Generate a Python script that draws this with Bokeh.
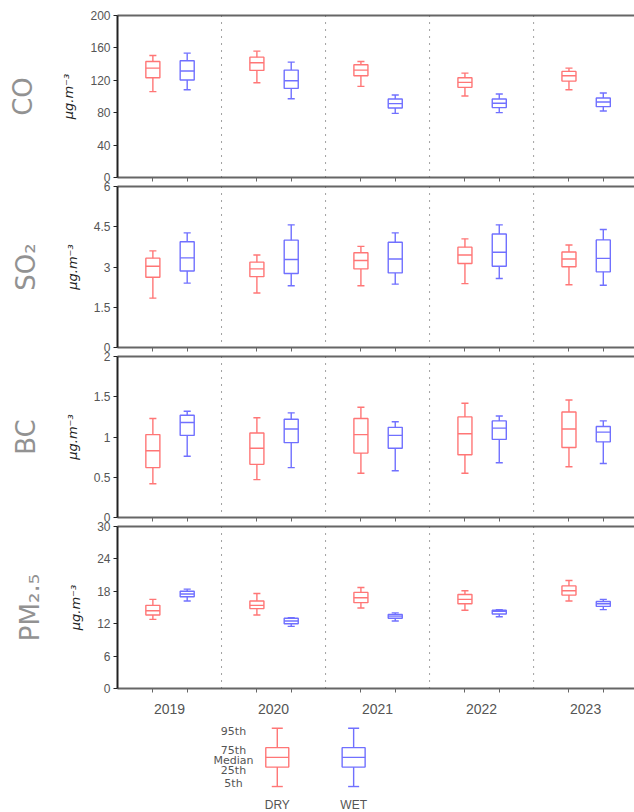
import numpy as np
from bokeh.plotting import figure
from bokeh.layouts import column
from bokeh.models import (Range1d, LinearAxis, FixedTicker, Span,
                          ColumnDataSource)
from bokeh.core.properties import value
from bokeh.embed import file_html
from bokeh.resources import INLINE

years = ["2019", "2020", "2021", "2022", "2023"]

# Percentiles per year: (5th, 25th, median, 75th, 95th)
co_dry = [(106, 123.2, 135, 143.3, 150.7), (117, 132.2, 141.7, 148.6, 156),
          (112.5, 125.7, 132.6, 139.2, 143.3), (100.6, 111.3, 117.4, 123.2, 128.9),
          (108.4, 119, 125.7, 131, 135)]
co_wet = [(108.4, 120.3, 131.4, 144.2, 153.5), (97.3, 110, 119.5, 132.6, 142.5),
          (79.2, 85.8, 91.2, 96.9, 101.8), (80.1, 86.3, 91.6, 96.9, 103),
          (82.1, 87.5, 93.2, 98.1, 104.3)]

so2_dry = [(1.84, 2.62, 3.03, 3.33, 3.60), (2.03, 2.64, 2.93, 3.18, 3.45),
           (2.30, 2.93, 3.24, 3.53, 3.77), (2.38, 3.13, 3.45, 3.74, 4.05),
           (2.34, 3.01, 3.30, 3.56, 3.82)]
so2_wet = [(2.40, 2.85, 3.34, 3.94, 4.27), (2.30, 2.76, 3.28, 4.00, 4.57),
           (2.36, 2.78, 3.30, 3.92, 4.27), (2.57, 3.03, 3.55, 4.23, 4.57),
           (2.32, 2.82, 3.32, 4.01, 4.40)]

bc_dry = [(0.42, 0.62, 0.83, 1.03, 1.23), (0.47, 0.66, 0.86, 1.05, 1.24),
          (0.55, 0.80, 1.03, 1.23, 1.37), (0.55, 0.78, 1.04, 1.25, 1.42),
          (0.63, 0.87, 1.10, 1.31, 1.46)]
bc_wet = [(0.76, 1.02, 1.18, 1.27, 1.32), (0.62, 0.93, 1.10, 1.22, 1.30),
          (0.58, 0.86, 1.02, 1.12, 1.19), (0.68, 0.97, 1.11, 1.20, 1.26),
          (0.67, 0.94, 1.06, 1.13, 1.20)]

pm25_dry = [(12.8, 13.6, 14.4, 15.4, 16.5), (13.6, 14.8, 15.4, 16.2, 17.6),
            (14.9, 15.9, 16.8, 17.8, 18.7), (14.5, 15.7, 16.5, 17.4, 18.1),
            (16.2, 17.3, 18.1, 19.0, 20.0)]
pm25_wet = [(16.2, 17.0, 17.5, 18.0, 18.4), (11.5, 12.0, 12.5, 13.0, 13.1),
            (12.5, 13.0, 13.4, 13.7, 14.0), (13.3, 13.8, 14.3, 14.5, 14.6),
            (14.6, 15.2, 15.7, 16.1, 16.5)]

co_ticks = [0, 40, 80, 120, 160, 200]
co_tick_labels = ["0", "40", "80", "120", "160", "200"]
so2_ticks = [0, 1.5, 3, 4.5, 6]
so2_tick_labels = ["0", "1.5", "3", "4.5", "6"]
bc_ticks = [0, 0.5, 1, 1.5, 2]
bc_tick_labels = ["0", "0.5", "1", "1.5", "2"]
pm25_ticks = [0, 6, 12, 18, 24, 30]
pm25_tick_labels = ["0", "6", "12", "18", "24", "30"]

# Schematic key: levels of the sample box
legend_names = ["5th", "25th", "Median", "75th", "95th"]
legend_levels = (0, 2, 3, 4, 6)
legend_name_y = [0.3, 1.7, 2.7, 3.7, 5.7]

DRY_COLOR = "#ff7676"
WET_COLOR = "#7070ff"
DRY_OFFSET, WET_OFFSET = 0.34, 0.67
BOX_W, CAP_W = 0.135, 0.068
X_END = 4.97
FRAME_W = 517
LEFT = 117
GAP = 9
AXIS_GREY = "#666666"
TEXT_GREY = "#555555"


def draw_boxes(p, stats, xs, color, box_w, cap_w, lw=1.4):
    a = np.asarray(stats, dtype=float)
    xs = np.asarray(xs, dtype=float)
    src = ColumnDataSource(dict(x=xs, p05=a[:, 0], p25=a[:, 1], p50=a[:, 2],
                                p75=a[:, 3], p95=a[:, 4],
                                bl=xs - box_w / 2, br=xs + box_w / 2,
                                cl=xs - cap_w / 2, cr=xs + cap_w / 2))
    kw = dict(line_color=color, line_width=lw, source=src)
    p.vbar(x="x", width=box_w, bottom="p25", top="p75", fill_color=None, **kw)
    p.segment(x0="bl", y0="p50", x1="br", y1="p50", **kw)
    p.segment(x0="x", y0="p75", x1="x", y1="p95", **kw)
    p.segment(x0="x", y0="p05", x1="x", y1="p25", **kw)
    p.segment(x0="cl", y0="p95", x1="cr", y1="p95", **kw)
    p.segment(x0="cl", y0="p05", x1="cr", y1="p05", **kw)


def bare_axis(ticks, out, line_color=AXIS_GREY):
    # axis line with outward tick marks only (no tick labels)
    return LinearAxis(ticker=FixedTicker(ticks=ticks),
                      major_label_text_font_size="0px",
                      major_label_text_color=None, major_label_standoff=0,
                      major_tick_in=0, major_tick_out=out, minor_tick_out=0,
                      minor_tick_in=0, axis_line_color=line_color,
                      axis_line_width=2, major_tick_line_color=AXIS_GREY)


def panel(name, dry, wet, ticks, tick_labels, ymax, frame_h, top, bottom,
          show_years=False, overlap=0):
    p = figure(frame_width=FRAME_W, frame_height=frame_h,
               x_range=Range1d(0, X_END), y_range=Range1d(0, ymax),
               x_axis_location=None, y_axis_location="left",
               output_backend="svg", toolbar_location=None,
               min_border_left=LEFT, min_border_right=0,
               min_border_top=top, min_border_bottom=bottom,
               margin=(-overlap, 0, 0, 0))
    p.outline_line_color = None
    p.grid.visible = False
    p.background_fill_color = "white"
    p.border_fill_alpha = 0

    ya = p.yaxis[0]
    ya.ticker = FixedTicker(ticks=ticks)
    ya.major_label_overrides = {t: s for t, s in zip(ticks, tick_labels)}
    ya.major_label_text_font = "Liberation Sans"
    ya.major_label_text_font_size = "12px"
    ya.major_label_text_color = TEXT_GREY
    ya.major_tick_in = 0
    ya.major_tick_out = 4
    ya.minor_tick_out = 0
    ya.minor_tick_in = 0
    ya.axis_line_color = "#222222"
    ya.axis_line_width = 2
    ya.major_tick_line_color = "#222222"
    ya.major_label_standoff = 3
    ya.axis_label = "μg.m⁻³"
    ya.axis_label_text_font = "DejaVu Sans"
    ya.axis_label_text_font_size = "13px"
    ya.axis_label_text_font_style = "italic"
    ya.axis_label_text_color = "#222222"
    ya.axis_label_standoff = 11

    # pollutant name, set as the label of an outer bare axis
    name_axis = bare_axis([], 0, line_color=None)
    name_axis.axis_label = name
    name_axis.axis_label_standoff = 21
    name_axis.axis_label_text_font = "DejaVu Sans"
    name_axis.axis_label_text_font_size = "26px"
    name_axis.axis_label_text_font_style = "normal"
    name_axis.axis_label_text_color = "#929292"
    p.add_layout(name_axis, "left")

    n = len(years)
    box_x = sorted([i + DRY_OFFSET for i in range(n)] + [i + WET_OFFSET for i in range(n)])
    p.add_layout(bare_axis(box_x, 4), "below")
    p.add_layout(bare_axis(box_x, 0), "above")

    if show_years:
        yrs = LinearAxis(ticker=FixedTicker(ticks=[i + 0.5 for i in range(n)]),
                         major_label_overrides={i + 0.5: y for i, y in enumerate(years)},
                         major_tick_out=0, major_tick_in=0, minor_tick_out=0,
                         minor_tick_in=0, axis_line_color=None,
                         major_label_standoff=11,
                         major_label_text_font="Liberation Sans",
                         major_label_text_font_size="14px",
                         major_label_text_color=TEXT_GREY)
        p.add_layout(yrs, "below")

    for k in range(1, n):
        p.add_layout(Span(location=k, dimension="height", line_color="#444444",
                          line_width=1, line_dash="1 6"))

    draw_boxes(p, dry, [i + DRY_OFFSET for i in range(n)], DRY_COLOR, BOX_W, CAP_W)
    draw_boxes(p, wet, [i + WET_OFFSET for i in range(n)], WET_COLOR, BOX_W, CAP_W)
    return p


p_co = panel("CO", co_dry, co_wet, co_ticks, co_tick_labels, 200, 162, 15, GAP)
p_so2 = panel("SO₂", so2_dry, so2_wet, so2_ticks, so2_tick_labels, 6, 161, GAP, GAP,
              overlap=GAP)
p_bc = panel("BC", bc_dry, bc_wet, bc_ticks, bc_tick_labels, 2, 161, GAP, GAP,
             overlap=GAP)
p_pm = panel("PM₂.₅", pm25_dry, pm25_wet, pm25_ticks, pm25_tick_labels, 30, 162, GAP, 32,
             show_years=True, overlap=GAP)

# Key explaining the box-and-whisker levels
key = figure(frame_width=FRAME_W, frame_height=92,
             x_range=Range1d(0, X_END), y_range=Range1d(-2.67, 6.79),
             x_axis_location=None, y_axis_location=None,
             output_backend="svg", toolbar_location=None,
             min_border_left=LEFT, min_border_right=0,
             min_border_top=0, min_border_bottom=0)
key.outline_line_color = None
key.grid.visible = False
key_dry_x, key_wet_x = 1.536, 2.27
draw_boxes(key, [legend_levels], [key_dry_x], DRY_COLOR, 0.221, 0.106)
draw_boxes(key, [legend_levels], [key_wet_x], WET_COLOR, 0.221, 0.106)
key.text(x=[1.115] * len(legend_names), y=legend_name_y, text=legend_names,
         text_font=value("DejaVu Sans"), text_font_size="11px",
         text_color=TEXT_GREY, text_align="center", text_baseline="middle")
key.text(x=[key_dry_x, key_wet_x], y=[-1.95, -1.95], text=["DRY", "WET"],
         text_font=value("Liberation Sans"), text_font_size="12px",
         text_color=TEXT_GREY, text_align="center", text_baseline="middle")

layout = column(p_co, p_so2, p_bc, p_pm, key, spacing=0)

with open("out.html", "w") as f:
    f.write(file_html(layout, INLINE))
